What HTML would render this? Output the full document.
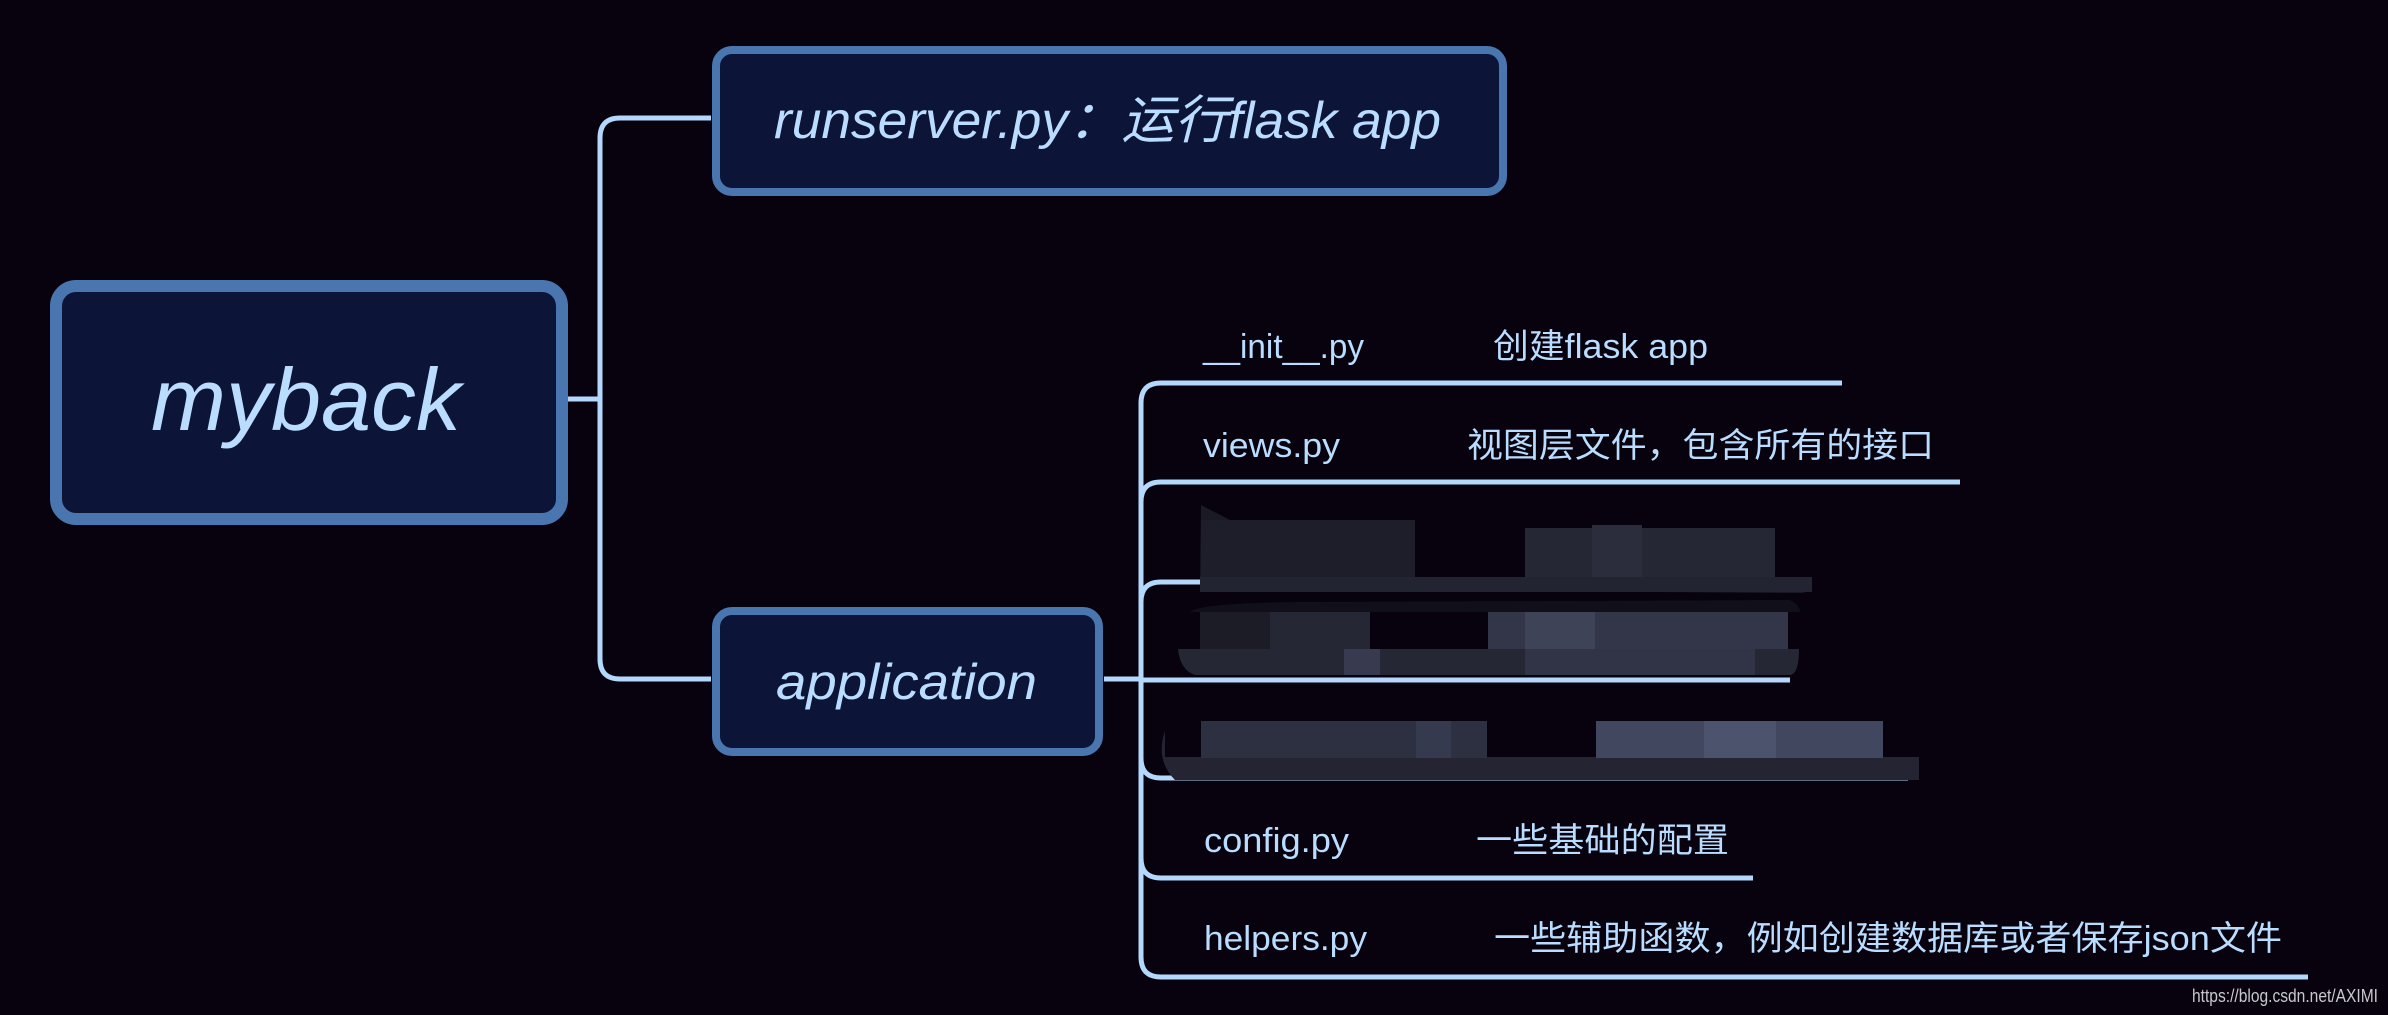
<!DOCTYPE html>
<html><head><meta charset="utf-8"><style>
html,body{margin:0;padding:0;background:#07020d;}
svg{display:block}
</style></head><body>
<svg width="2388" height="1015" viewBox="0 0 2388 1015" xmlns="http://www.w3.org/2000/svg">
<rect width="2388" height="1015" fill="#07020d"/>
<g fill="none" stroke="#b4d8fb" stroke-width="5">
<path d="M568 399 H600"/>
<path d="M711 118 H620 Q600 118 600 138 V659 Q600 679 620 679 H711"/>
<path d="M1104 679 H1141"/>
<path d="M1842 383 H1161 Q1141 383 1141 403 V957 Q1141 977 1161 977 H2308"/>
<path d="M1960 482 H1161 Q1141 482 1141 502"/>
<path d="M1812 582 H1161 Q1141 582 1141 602"/>
<path d="M1790 680 H1141"/>
<path d="M1141 758 Q1141 778 1161 778 H1908"/>
<path d="M1141 858 Q1141 878 1161 878 H1753"/>
</g>
<rect x="56" y="286" width="506" height="233" rx="20" fill="#0c1437" stroke="#4a76b0" stroke-width="12"/>
<rect x="716" y="50" width="787" height="142" rx="16" fill="#0c1437" stroke="#4a76b0" stroke-width="8"/>
<rect x="716" y="611" width="383" height="141" rx="16" fill="#0c1437" stroke="#4a76b0" stroke-width="8"/>
<g fill="#b9dcff" font-family="'Liberation Sans','Noto Sans CJK SC',sans-serif" font-style="italic">
<text x="151" y="430" font-size="88" textLength="310" lengthAdjust="spacingAndGlyphs">myback</text>
<text x="774" y="138" font-size="52" textLength="667" lengthAdjust="spacingAndGlyphs">runserver.py：运行flask app</text>
<text x="776" y="699" font-size="50" textLength="261" lengthAdjust="spacingAndGlyphs">application</text>
</g>
<!-- blurred regions -->
<g>
<path d="M1201 505 L1230 520 L1345 525 L1415 528 L1415 580 L1812 582 Q1812 593 1800 593 L1360 590 L1200 585 Z" fill="#1a1a24"/>
<rect x="1201" y="520" width="214" height="60" fill="#1e1e2a"/>
<rect x="1525" y="528" width="250" height="55" fill="#262735"/>
<rect x="1592" y="525" width="50" height="55" fill="#2c2d3c"/>
<rect x="1200" y="577" width="612" height="15" fill="#232431"/>
<path d="M1190 612 Q1200 603 1300 602 L1790 600 Q1800 605 1800 612 Z" fill="#11101a"/>
<rect x="1200" y="612" width="120" height="37" fill="#1c1c27"/>
<rect x="1270" y="612" width="100" height="37" fill="#262735"/>
<rect x="1488" y="612" width="300" height="37" fill="#333649"/>
<rect x="1525" y="612" width="70" height="37" fill="#3f4357"/>
<path d="M1178 649 H1799 Q1799 674 1790 675 H1195 Q1180 670 1178 649 Z" fill="#262735"/>
<rect x="1344" y="649" width="36" height="26" fill="#383b4f"/>
<rect x="1525" y="649" width="230" height="26" fill="#313447"/>
<path d="M1165 731 Q1155 760 1175 780 H1919 V757 H1165 Z" fill="#242432"/>
<rect x="1201" y="721" width="286" height="37" fill="#2d3041"/>
<rect x="1416" y="721" width="35" height="37" fill="#363a4e"/>
<rect x="1596" y="721" width="287" height="37" fill="#424760"/>
<rect x="1704" y="721" width="72" height="37" fill="#4c536d"/>
</g>
<g fill="#b9dcff" font-family="'Liberation Sans','Noto Sans CJK SC',sans-serif" font-size="34">
<text x="1203" y="358" textLength="161" lengthAdjust="spacingAndGlyphs">__init__.py</text>
<text x="1493" y="358" textLength="215" lengthAdjust="spacingAndGlyphs">创建flask app</text>
<text x="1203" y="457" textLength="137" lengthAdjust="spacingAndGlyphs">views.py</text>
<text x="1467" y="457" textLength="467" lengthAdjust="spacingAndGlyphs">视图层文件，包含所有的接口</text>
<text x="1204" y="852" textLength="145" lengthAdjust="spacingAndGlyphs">config.py</text>
<text x="1476" y="852" textLength="253" lengthAdjust="spacingAndGlyphs">一些基础的配置</text>
<text x="1204" y="950" textLength="163" lengthAdjust="spacingAndGlyphs">helpers.py</text>
<text x="1494" y="950" textLength="788" lengthAdjust="spacingAndGlyphs">一些辅助函数，例如创建数据库或者保存json文件</text>
</g>
<text x="2192" y="1002" fill="#c8c8cc" font-family="'Liberation Sans',sans-serif" font-size="18" textLength="186" lengthAdjust="spacingAndGlyphs">https://blog.csdn.net/AXIMI</text>
</svg>
</body></html>
